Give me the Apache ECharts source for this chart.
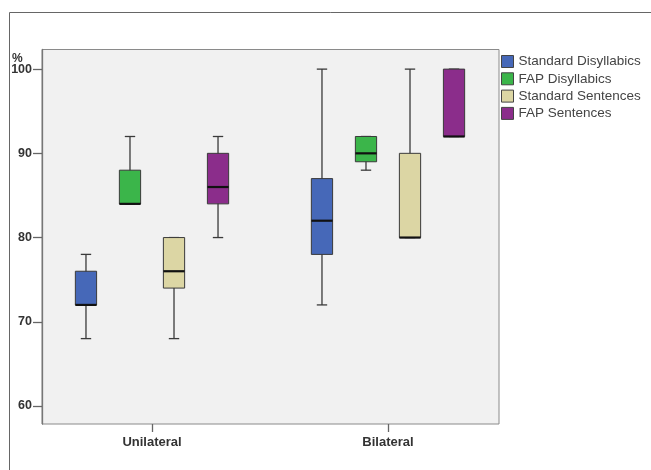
<!DOCTYPE html>
<html>
<head>
<meta charset="utf-8">
<script src="https://cdn.jsdelivr.net/npm/echarts@6/dist/echarts.min.js"></script>
<style>html,body{margin:0;padding:0;background:#fff}#c{width:651px;height:470px}</style>
</head>
<body>
<div id="c"></div>
<script>
// Data: [min, Q1, median, Q3, max] per category
const categories = ['Unilateral', 'Bilateral'];
const seriesNames = ['Standard Disyllabics', 'FAP Disyllabics', 'Standard Sentences', 'FAP Sentences'];
const stdDisyllabics = [[68, 72, 72, 76, 78], [72, 78, 82, 87, 100]];
const fapDisyllabics = [[84, 84, 84, 88, 92], [88, 89, 90, 92, 92]];
const stdSentences   = [[68, 74, 76, 80, 80], [80, 80, 80, 90, 100]];
const fapSentences   = [[80, 84, 86, 90, 92], [92, 92, 92, 100, 100]];
const yTicks = [60, 70, 80, 90, 100];
const colors = ['#4668b8', '#3bb54a', '#dcd6a4', '#8b2d8b'];

const allSeries = [stdDisyllabics, fapDisyllabics, stdSentences, fapSentences];
const FONT = '"Liberation Sans", Arial, sans-serif';
const yMin = 57.86, yMax = 102.33;

function makeRender(k) {
  return function (params, api) {
    const cat = api.value(0);
    const bw = api.size([1, 0])[0];
    const off = (k - 1.5) * 0.1865 * bw;
    const half = 0.045 * bw;
    const cap = 0.022 * bw;
    const c = api.coord([cat, api.value(1)]);
    const x = c[0] + off;
    const yMinP = api.coord([cat, api.value(1)])[1];
    const yQ1 = api.coord([cat, api.value(2)])[1];
    const yMed = api.coord([cat, api.value(3)])[1];
    const yQ3 = api.coord([cat, api.value(4)])[1];
    const yMaxP = api.coord([cat, api.value(5)])[1];
    const ws = { stroke: '#3a3a3a', lineWidth: 1.3 };
    return {
      type: 'group',
      children: [
        { type: 'line', shape: { x1: x, y1: yMinP, x2: x, y2: yMaxP }, style: ws },
        { type: 'line', shape: { x1: x - cap, y1: yMinP, x2: x + cap, y2: yMinP }, style: ws },
        { type: 'line', shape: { x1: x - cap, y1: yMaxP, x2: x + cap, y2: yMaxP }, style: ws },
        { type: 'rect', shape: { x: x - half, y: yQ3, width: 2 * half, height: yQ1 - yQ3 },
          style: { fill: colors[k], stroke: '#3a3a3a', lineWidth: 1 } },
        { type: 'line', shape: { x1: x - half, y1: yMed, x2: x + half, y2: yMed },
          style: { stroke: '#111', lineWidth: 2.2 } }
      ]
    };
  };
}

const series = allSeries.map(function (arr, k) {
  return {
    name: seriesNames[k],
    type: 'custom',
    xAxisIndex: 0,
    yAxisIndex: 0,
    itemStyle: { color: colors[k] },
    encode: { x: 0, y: [1, 2, 3, 4, 5] },
    data: arr.map(function (v, i) { return [i].concat(v); }),
    renderItem: makeRender(k),
    silent: true
  };
});

const chart = echarts.init(document.getElementById('c'), null, { renderer: 'canvas' });
chart.setOption({
  animation: false,
  backgroundColor: '#ffffff',
  textStyle: { fontFamily: FONT },
  title: {
    text: '%', left: 7, top: 48,
    textStyle: { fontSize: 12, fontWeight: 'bold', color: '#333', fontFamily: FONT }
  },
  graphic: [{
    type: 'polyline', silent: true, z: -1,
    shape: { points: [[9.5, 470], [9.5, 12.5], [651, 12.5]] },
    style: { stroke: '#666', lineWidth: 1, fill: null }
  }],
  legend: {
    orient: 'vertical', left: 501, top: 54.5, padding: 0,
    itemWidth: 12, itemHeight: 12, itemGap: 3.3,
    icon: 'rect',
    itemStyle: { borderColor: '#444', borderWidth: 1 },
    textStyle: { fontSize: 13.5, lineHeight: 12, color: '#444', fontFamily: FONT },
    data: seriesNames
  },
  grid: [
    { left: 34, width: 472, top: 49.5, height: 374.5, containLabel: false },
    { left: 42, width: 457, top: 49.5, height: 374.5, show: true,
      backgroundColor: '#f1f1f1', borderColor: '#8a8a8a', borderWidth: 1, z: -1 }
  ],
  xAxis: [
    {
      type: 'category', gridIndex: 0, data: categories,
      axisLine: { show: false },
      axisTick: { show: true, alignWithLabel: true, length: 8, lineStyle: { color: '#666', width: 1.3 } },
      axisLabel: { fontSize: 13, fontWeight: 'bold', color: '#333', margin: 12, fontFamily: FONT },
      splitLine: { show: false }
    },
    { type: 'value', gridIndex: 1, show: false, min: 0, max: 1 }
  ],
  yAxis: [
    { type: 'value', gridIndex: 0, min: yMin, max: yMax, show: false, splitLine: { show: false } },
    {
      type: 'value', gridIndex: 1, min: yMin, max: yMax,
      axisLine: { show: true, lineStyle: { color: '#777', width: 1.3 } },
      axisTick: { show: true, length: 9, customValues: yTicks, lineStyle: { color: '#666', width: 1.3 } },
      axisLabel: { customValues: yTicks, fontSize: 12.5, fontWeight: 'bold', color: '#333', margin: 10, fontFamily: FONT },
      splitLine: { show: false }
    }
  ],
  series: series
});
</script>
</body>
</html>
